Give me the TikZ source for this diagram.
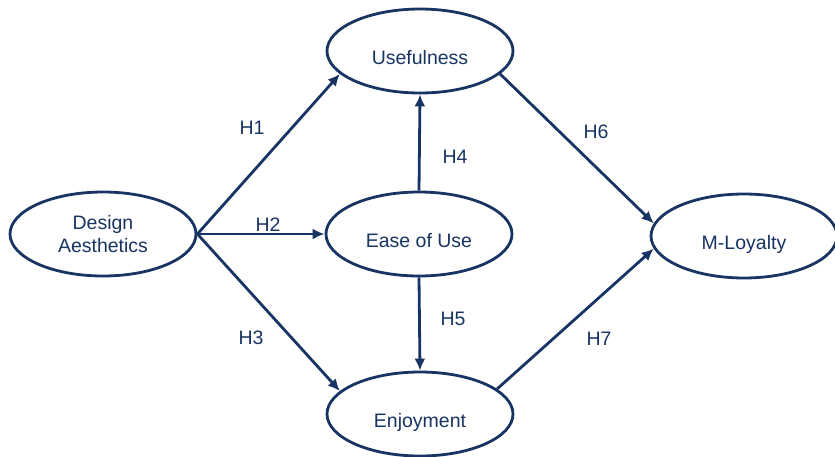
\documentclass[tikz,border=0pt]{standalone}
\usepackage{fontspec}
\setmainfont{Liberation Sans}
\usetikzlibrary{shapes.geometric,arrows.meta}
\definecolor{navy}{RGB}{24,52,98}

\tikzset{
  construct/.style={ellipse, draw=navy, line width=2.8pt, fill=white,
    minimum width=186pt, minimum height=84pt, inner sep=0pt,
    text=navy, font=\fontsize{19.5}{23}\selectfont},
  oneline/.style={text height=26pt, text depth=0pt},
  hyp/.style={text=navy, font=\fontsize{19.5}{23}\selectfont, inner sep=0pt},
  path/.style={->, draw=navy, line width=2.8pt}
}

\begin{document}
\begin{tikzpicture}[x=1pt,y=-1pt,>={Latex[length=12pt,width=11pt]}]
\useasboundingbox (0,0) rectangle (835,456);

\node[construct, align=center] (design) at (103,234) {Design\\Aesthetics};
\node[construct, oneline] (useful) at (420,51) {Usefulness};
\node[construct, oneline] (ease) at (419,234) {Ease of Use};
\node[construct, oneline] (enjoy) at (420,414) {Enjoyment};
\node[construct, oneline] (loyal) at (744,236) {M-Loyalty};

\draw[path] (design.east) -- (useful.196);
\draw[path] (design.east) -- (ease.west);
\draw[path] (design.east) -- (enjoy.164);
\draw[path] (ease.north) -- (useful.south);
\draw[path] (ease.south) -- (enjoy.north);
\draw[path] (useful.344) -- (loyal.172);
\draw[path] (enjoy.18) -- (loyal.188);

\node[hyp] (h1) at (252,128) {H1};
\node[hyp] (h2) at (268,225) {H2};
\node[hyp] (h3) at (251,338) {H3};
\node[hyp] (h4) at (455,157) {H4};
\node[hyp] (h5) at (453,319) {H5};
\node[hyp] (h6) at (596,132) {H6};
\node[hyp] (h7) at (599,339) {H7};
\end{tikzpicture}
\end{document}
